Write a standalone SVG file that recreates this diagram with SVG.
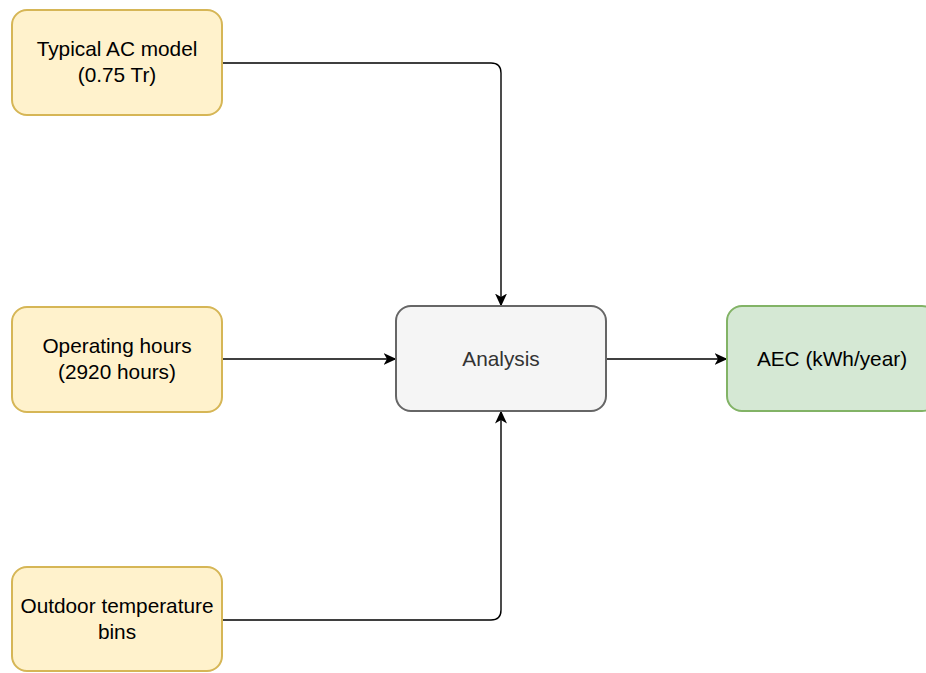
<svg xmlns="http://www.w3.org/2000/svg" width="926" height="673" viewBox="0 0 926 673">
<style>
.in rect{fill:#fff2cc;stroke:#d6b656;stroke-width:2}
.out rect{fill:#d5e8d4;stroke:#82b366;stroke-width:2}
.mid rect{fill:#f5f5f5;stroke:#666666;stroke-width:2}
text{font-family:"Liberation Sans",Arial,sans-serif;font-size:20.8px;text-anchor:middle;fill:#000}
.mid text{fill:#333333}
.edges path{fill:none;stroke:#000;stroke-width:1.4}
</style>
<defs>
<marker id="arr" viewBox="0 0 13 12" refX="12.5" refY="6" markerWidth="13" markerHeight="12" markerUnits="userSpaceOnUse" orient="auto">
<path d="M0,0 L13,6 L0,12 L3.5,6 Z" fill="#000"/>
</marker>
</defs>
<rect width="926" height="673" fill="#ffffff"/>
<g class="edges">
<path d="M222,63 H491 Q501,63 501,73 V306" marker-end="url(#arr)"/>
<path d="M222,359 H396" marker-end="url(#arr)"/>
<path d="M222,620 H491 Q501,620 501,610 V411" marker-end="url(#arr)"/>
<path d="M607,359 H727" marker-end="url(#arr)"/>
</g>
<g id="typical-ac" class="in">
<rect x="12" y="10" width="210" height="105" rx="15"/>
<text x="117" y="56">Typical AC model</text>
<text x="117" y="82">(0.75 Tr)</text>
</g>
<g id="operating-hours" class="in">
<rect x="12" y="307" width="210" height="105" rx="15"/>
<text x="117" y="353">Operating hours</text>
<text x="117" y="379">(2920 hours)</text>
</g>
<g id="outdoor-temp" class="in">
<rect x="12" y="567" width="210" height="104" rx="15"/>
<text x="117" y="613">Outdoor temperature</text>
<text x="117" y="639">bins</text>
</g>
<g id="analysis" class="mid">
<rect x="396" y="306" width="210" height="105" rx="15"/>
<text x="501" y="366">Analysis</text>
</g>
<g id="aec" class="out">
<rect x="727" y="306" width="210" height="105" rx="15"/>
<text x="832" y="366">AEC (kWh/year)</text>
</g>
</svg>
